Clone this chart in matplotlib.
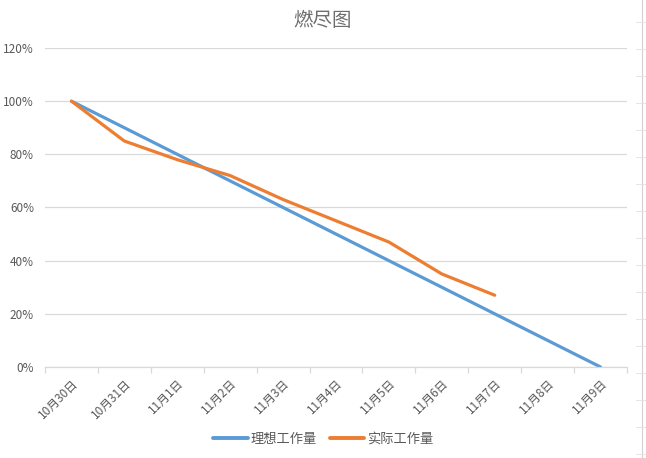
import matplotlib
matplotlib.use("Agg")
import matplotlib.pyplot as plt
from matplotlib.lines import Line2D
import numpy as np

plt.rcParams['font.family'] = ['Noto Sans CJK SC', 'DejaVu Sans']

categories = ["10月30日", "10月31日", "11月1日", "11月2日", "11月3日", "11月4日",
              "11月5日", "11月6日", "11月7日", "11月8日", "11月9日"]
ideal = [1.00, 0.90, 0.80, 0.70, 0.60, 0.50, 0.40, 0.30, 0.20, 0.10, 0.00]
actual = [1.00, 0.85, 0.78, 0.72, 0.63, 0.55, 0.47, 0.35, 0.27]
yticks = [0, 0.2, 0.4, 0.6, 0.8, 1.0, 1.2]
ytick_labels = ["0%", "20%", "40%", "60%", "80%", "100%", "120%"]
series_names = ["理想工作量", "实际工作量"]

W, H = 646, 458
fig = plt.figure(figsize=(W / 100, H / 100), dpi=100)
ax = fig.add_axes([45 / W, 1 - 367 / H, (627 - 45) / W, (367 - 48) / H])

x = np.arange(len(categories))
ax.plot(x, ideal, color='#5B9BD5', lw=2.3, label=series_names[0], solid_capstyle='round')
ax.plot(x[:len(actual)], actual, color='#ED7D31', lw=2.3, label=series_names[1], solid_capstyle='round')

ax.set_xlim(-0.5, len(categories) - 0.5)
ax.set_ylim(0, 1.2)
ax.set_yticks(yticks)
ax.set_yticklabels(ytick_labels, color='#595959', fontsize=8.5)
ax.tick_params(axis='y', length=0, pad=8)
ax.grid(axis='y', color='#D9D9D9', lw=0.9)
ax.set_axisbelow(True)

ax.set_xticks(x)
ax.set_xticklabels(categories, rotation=45, ha='right', va='top', rotation_mode='anchor',
                   color='#595959', fontsize=8.5)
ax.tick_params(axis='x', which='major', length=0, pad=7)
ax.set_xticks(np.arange(-0.5, len(categories) + 0.5, 1), minor=True)
ax.tick_params(axis='x', which='minor', length=4, color='#D9D9D9', width=0.9)

for s in ['top', 'right', 'left']:
    ax.spines[s].set_visible(False)
ax.spines['bottom'].set_color('#D9D9D9')
ax.spines['bottom'].set_linewidth(0.9)

fig.text(0.5, 1 - 20 / H, "燃尽图", ha='center', va='center', fontsize=14, color='#6E6E6E')

leg = fig.legend(loc='center', bbox_to_anchor=(0.5, 1 - 439 / H), ncol=2, frameon=False,
                 fontsize=9.5, handlelength=2.6, columnspacing=1.0, handletextpad=0.2)
for t in leg.get_texts():
    t.set_color('#595959')
for l in leg.get_lines():
    l.set_linewidth(2.8)

# Excel sheet edge on the right
fig.add_artist(Line2D([642 / W, 642 / W], [0, 1], color='#D0D0D0', lw=0.8))
for yy in range(22, 458, 27):
    fig.add_artist(Line2D([636 / W, 646 / W], [1 - yy / H, 1 - yy / H], color='#E0E0E0', lw=0.6))

fig.savefig("out.png", dpi=100)
